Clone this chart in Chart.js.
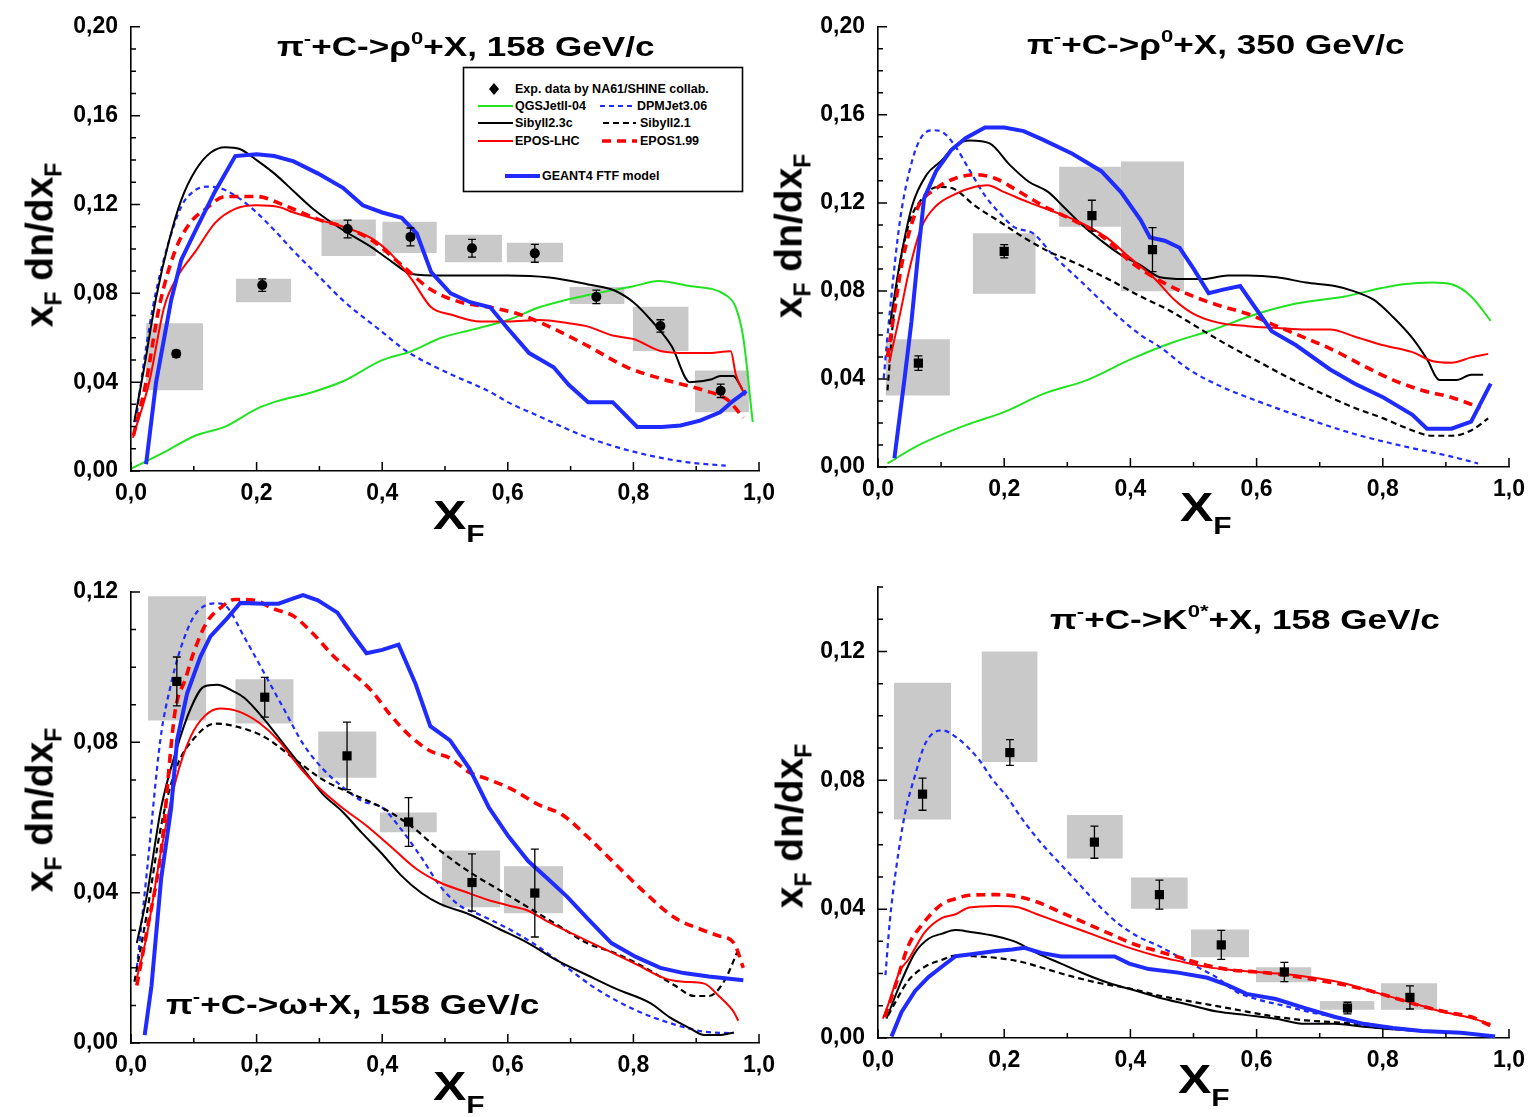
<!DOCTYPE html>
<html>
<head>
<meta charset="utf-8">
<script src="https://cdn.jsdelivr.net/npm/chart.js@4.4.1/dist/chart.umd.min.js"></script>
<style>
  body { margin:0; background:#fff; width:1534px; height:1117px; position:relative; overflow:hidden;
         font-family:'Liberation Sans', Arial, sans-serif; }
  canvas { position:absolute; }
  .ttl { position:absolute; font:bold 27px/27px 'Liberation Sans', Arial, sans-serif; white-space:nowrap;
         transform:scaleX(1.3); transform-origin:0 0; }
  .sp { font-size:17px; position:relative; top:-12px; }
  .yt { position:absolute; font:bold 39px/39px 'Liberation Sans', Arial, sans-serif; white-space:nowrap;
        transform:translate(-50%,-50%) rotate(-90deg); }
  .xt { position:absolute; font:bold 40px/40px 'Liberation Sans', Arial, sans-serif; white-space:nowrap;
        transform:scaleX(1.25); transform-origin:0 0; }
  .sb { font-size:23px; position:relative; top:9px; }
  .sb2 { font-size:24px; position:relative; top:13px; }
  #leg { position:absolute; left:462px; top:66px; }
  #leg text { font:bold 12.5px 'Liberation Sans', Arial, sans-serif; fill:#000; }
</style>
</head>
<body>

<div class="ttl" style="left:277px;top:34px">π<span class="sp">-</span>+C-&gt;ρ<span class="sp">0</span>+X, 158 GeV/c</div>
<div class="ttl" style="left:1027px;top:32px">π<span class="sp">-</span>+C-&gt;ρ<span class="sp">0</span>+X, 350 GeV/c</div>
<div class="ttl" style="left:166px;top:992px">π<span class="sp">-</span>+C-&gt;ω+X, 158 GeV/c</div>
<div class="ttl" style="left:1050px;top:607px">π<span class="sp">-</span>+C-&gt;K<span class="sp">0*</span>+X, 158 GeV/c</div>

<div class="yt" style="left:42px;top:245px">x<span class="sb">F</span> dn/dx<span class="sb">F</span></div>
<div class="yt" style="left:791px;top:236px">x<span class="sb">F</span> dn/dx<span class="sb">F</span></div>
<div class="yt" style="left:42px;top:810px">x<span class="sb">F</span> dn/dx<span class="sb">F</span></div>
<div class="yt" style="left:792px;top:826px">x<span class="sb">F</span> dn/dx<span class="sb">F</span></div>

<div class="xt" style="left:433px;top:495px">X<span class="sb2">F</span></div>
<div class="xt" style="left:1180px;top:487px">X<span class="sb2">F</span></div>
<div class="xt" style="left:433px;top:1066px">X<span class="sb2">F</span></div>
<div class="xt" style="left:1178px;top:1059px">X<span class="sb2">F</span></div>

<svg id="leg" width="284" height="128">
  <rect x="1.5" y="1.5" width="279" height="124" fill="#fff" stroke="#000" stroke-width="1.6"/>
  <polygon points="32,17 37,23 32,29 27,23" fill="#000"/>
  <text x="53" y="27">Exp. data by NA61/SHINE collab.</text>
  <line x1="16" y1="40" x2="51" y2="40" stroke="#22e322" stroke-width="2"/>
  <text x="53" y="44">QGSJetII-04</text>
  <line x1="138" y1="40" x2="174" y2="40" stroke="#1f2bff" stroke-width="2.2" stroke-dasharray="5,4"/>
  <text x="175" y="44">DPMJet3.06</text>
  <line x1="16" y1="57" x2="51" y2="57" stroke="#000" stroke-width="2"/>
  <text x="53" y="61">Sibyll2.3c</text>
  <line x1="141" y1="57" x2="174" y2="57" stroke="#000" stroke-width="2.2" stroke-dasharray="6,4"/>
  <text x="178" y="61">Sibyll2.1</text>
  <line x1="16" y1="75" x2="51" y2="75" stroke="#ff0000" stroke-width="2"/>
  <text x="53" y="79">EPOS-LHC</text>
  <line x1="140" y1="75" x2="175" y2="75" stroke="#ff0000" stroke-width="3.6" stroke-dasharray="9,6"/>
  <text x="178" y="79">EPOS1.99</text>
  <line x1="43" y1="110" x2="78" y2="110" stroke="#1f2bff" stroke-width="4"/>
  <text x="80" y="114">GEANT4 FTF model</text>
</svg>

<script>
// ---------- pi- + C -> rho0 + X, 158 GeV/c ----------
const rho158_xF    = [0.072, 0.209, 0.345, 0.445, 0.543, 0.643, 0.741, 0.843, 0.939];
const rho158_val   = [0.0528, 0.0837, 0.1090, 0.1054, 0.1003, 0.0980, 0.0784, 0.0653, 0.0361];
const rho158_stat  = [0.0015, 0.0028, 0.0040, 0.0040, 0.0040, 0.0040, 0.0030, 0.0028, 0.0030];
const rho158_binLo = [0.024, 0.167, 0.303, 0.400, 0.500, 0.598, 0.698, 0.799, 0.898];
const rho158_binHi = [0.115, 0.255, 0.390, 0.487, 0.591, 0.688, 0.786, 0.888, 0.984];
const rho158_sysLo = [0.0364, 0.0760, 0.0968, 0.0982, 0.0940, 0.0940, 0.0752, 0.0540, 0.0265];
const rho158_sysHi = [0.0665, 0.0866, 0.1132, 0.1122, 0.1064, 0.1028, 0.0828, 0.0740, 0.0452];

const rho158_QGSJet = [[0.0,0.001],[0.05,0.008],[0.103,0.016],[0.15,0.020],[0.2,0.028],[0.228,0.031],[0.29,0.0356],[0.3375,0.0404],[0.4,0.0499],[0.447,0.054],[0.494,0.060],[0.54,0.0634],[0.6,0.068],[0.65,0.0737],[0.689,0.0768],[0.728,0.0792],[0.8,0.0832],[0.84,0.0855],[0.884,0.0835],[0.947,0.0792],[0.963,0.0737],[0.975,0.060],[0.99,0.022]];
const rho158_DPMJet = [[0.006,0.018],[0.016,0.04],[0.035,0.074],[0.055,0.098],[0.08,0.119],[0.1,0.126],[0.12,0.128],[0.14,0.1275],[0.166,0.124],[0.2,0.1164],[0.228,0.1085],[0.259,0.099],[0.298,0.088],[0.3375,0.0768],[0.4,0.0626],[0.431,0.0555],[0.4625,0.050],[0.509,0.0436],[0.572,0.0356],[0.6,0.031],[0.65,0.0246],[0.728,0.015],[0.8,0.0087],[0.884,0.004],[0.947,0.0024]];
const rho158_Sib23  = [[0.005,0.022],[0.02,0.045],[0.04,0.078],[0.06,0.103],[0.08,0.122],[0.103,0.1355],[0.127,0.1434],[0.15,0.1458],[0.173,0.145],[0.2,0.140],[0.228,0.134],[0.259,0.126],[0.29,0.118],[0.3375,0.1085],[0.384,0.1006],[0.415,0.0943],[0.447,0.0887],[0.494,0.088],[0.6,0.088],[0.666,0.0871],[0.728,0.084],[0.767,0.0816],[0.8,0.076],[0.83,0.0673],[0.861,0.0562],[0.89,0.0400],[0.925,0.0413],[0.938,0.0428],[0.959,0.0428],[0.973,0.037]];
const rho158_EposLHC = [[0.003,0.015],[0.029,0.04],[0.053,0.074],[0.075,0.088],[0.103,0.099],[0.134,0.1117],[0.166,0.118],[0.2,0.1196],[0.236,0.1188],[0.259,0.1164],[0.306,0.1125],[0.3375,0.110],[0.384,0.1046],[0.415,0.0974],[0.447,0.0863],[0.478,0.0737],[0.509,0.0705],[0.556,0.0673],[0.6,0.0673],[0.65,0.068],[0.697,0.0665],[0.728,0.065],[0.767,0.061],[0.8,0.0594],[0.845,0.0539],[0.884,0.0531],[0.916,0.0531],[0.955,0.0539],[0.963,0.0436],[0.978,0.034]];
const rho158_Epos199 = [[0.004,0.016],[0.024,0.04],[0.045,0.074],[0.07,0.099],[0.095,0.112],[0.119,0.118],[0.15,0.1236],[0.2,0.1236],[0.244,0.1196],[0.298,0.1133],[0.3375,0.110],[0.384,0.1038],[0.431,0.0927],[0.478,0.0816],[0.525,0.076],[0.572,0.0737],[0.619,0.0705],[0.666,0.065],[0.728,0.0562],[0.79,0.0467],[0.845,0.0415],[0.91,0.0365],[0.95,0.032],[0.975,0.024]];
const rho158_Geant4 = [[0.024,0.003],[0.04,0.04],[0.064,0.077],[0.08,0.095],[0.103,0.1085],[0.134,0.126],[0.166,0.1418],[0.2,0.1426],[0.228,0.1418],[0.259,0.1394],[0.298,0.1339],[0.3375,0.1275],[0.369,0.1196],[0.4,0.1164],[0.431,0.114],[0.455,0.107],[0.478,0.0895],[0.509,0.080],[0.54,0.076],[0.572,0.0737],[0.6,0.0642],[0.634,0.0531],[0.673,0.0467],[0.697,0.0388],[0.728,0.031],[0.767,0.031],[0.806,0.0198],[0.845,0.0198],[0.875,0.0205],[0.906,0.0227],[0.938,0.0264],[0.959,0.0316],[0.98,0.036]];

// ---------- pi- + C -> rho0 + X, 350 GeV/c ----------
const rho350_xF    = [0.064, 0.200, 0.339, 0.435];
const rho350_val   = [0.0472, 0.0980, 0.1142, 0.0988];
const rho350_stat  = [0.0033, 0.0030, 0.0070, 0.0100];
const rho350_binLo = [0.012, 0.150, 0.287, 0.385];
const rho350_binHi = [0.114, 0.250, 0.385, 0.485];
const rho350_sysLo = [0.0325, 0.0787, 0.1091, 0.0798];
const rho350_sysHi = [0.0580, 0.1062, 0.1364, 0.1388];

const rho350_QGSJet = [[0.015,0.0016],[0.0616,0.0095],[0.139,0.019],[0.2026,0.0253],[0.262,0.0332],[0.331,0.0395],[0.401,0.049],[0.47,0.0569],[0.524,0.0617],[0.601,0.0696],[0.6626,0.0743],[0.74,0.0775],[0.8,0.0814],[0.832,0.083],[0.878,0.0838],[0.909,0.083],[0.94,0.0775],[0.971,0.0664]];
const rho350_DPMJet = [[0.009,0.0403],[0.019,0.0711],[0.035,0.1123],[0.054,0.139],[0.069,0.150],[0.0886,0.153],[0.104,0.1518],[0.123,0.1455],[0.146,0.1344],[0.1695,0.1233],[0.1926,0.1154],[0.2157,0.109],[0.2465,0.106],[0.277,0.0964],[0.3236,0.0838],[0.37,0.0711],[0.416,0.060],[0.447,0.0545],[0.493,0.0443],[0.539,0.0372],[0.601,0.030],[0.678,0.0221],[0.755,0.015],[0.832,0.0095],[0.909,0.0047],[0.951,0.0016]];
const rho350_Sib23  = [[0.019,0.0648],[0.035,0.0933],[0.054,0.1186],[0.077,0.1328],[0.1,0.139],[0.123,0.1462],[0.146,0.1483],[0.177,0.147],[0.208,0.1375],[0.239,0.1296],[0.27,0.1249],[0.2928,0.1186],[0.3236,0.1099],[0.354,0.1028],[0.385,0.0964],[0.416,0.0917],[0.447,0.0862],[0.485,0.0854],[0.516,0.0854],[0.5547,0.087],[0.5855,0.087],[0.632,0.0862],[0.678,0.0838],[0.724,0.0822],[0.755,0.0798],[0.786,0.0759],[0.8166,0.068],[0.847,0.0585],[0.87,0.049],[0.89,0.0395],[0.917,0.0395],[0.94,0.0419],[0.959,0.0419]];
const rho350_Sib21  = [[0.015,0.0348],[0.027,0.0759],[0.046,0.1075],[0.069,0.1217],[0.096,0.1273],[0.119,0.1265],[0.154,0.1186],[0.1926,0.1115],[0.231,0.1043],[0.27,0.098],[0.308,0.0933],[0.37,0.0846],[0.416,0.0775],[0.462,0.0711],[0.508,0.0632],[0.5547,0.0553],[0.601,0.0482],[0.647,0.0411],[0.693,0.0348],[0.755,0.0269],[0.801,0.0221],[0.84,0.0174],[0.878,0.0142],[0.909,0.0142],[0.94,0.0166],[0.967,0.0221]];
const rho350_EposLHC = [[0.0177,0.0474],[0.035,0.0696],[0.05,0.0901],[0.069,0.109],[0.092,0.1186],[0.123,0.1241],[0.154,0.1273],[0.173,0.128],[0.2,0.1249],[0.239,0.1202],[0.277,0.1162],[0.3236,0.1107],[0.362,0.1043],[0.4,0.0949],[0.439,0.0854],[0.47,0.0759],[0.5,0.0696],[0.539,0.0656],[0.5855,0.064],[0.632,0.0632],[0.678,0.0625],[0.7165,0.0625],[0.755,0.0593],[0.801,0.0553],[0.847,0.0522],[0.878,0.0482],[0.909,0.0474],[0.94,0.0498],[0.967,0.0514]];
const rho350_Epos199 = [[0.015,0.050],[0.023,0.0648],[0.0385,0.0933],[0.0616,0.117],[0.092,0.1265],[0.123,0.1312],[0.154,0.1328],[0.185,0.1312],[0.2157,0.1265],[0.262,0.1186],[0.308,0.1123],[0.354,0.1051],[0.4,0.0933],[0.447,0.0846],[0.493,0.0783],[0.539,0.0735],[0.5855,0.0696],[0.632,0.064],[0.678,0.0585],[0.7165,0.0538],[0.77,0.0459],[0.8166,0.0395],[0.863,0.0348],[0.909,0.0316],[0.955,0.0269]];
const rho350_Geant4 = [[0.026,0.004],[0.042,0.04],[0.053,0.066],[0.063,0.095],[0.073,0.122],[0.092,0.1344],[0.1156,0.1439],[0.1387,0.1494],[0.1695,0.1542],[0.2,0.1542],[0.231,0.1526],[0.262,0.1486],[0.308,0.1423],[0.354,0.1344],[0.385,0.1249],[0.416,0.1123],[0.431,0.1043],[0.4545,0.1028],[0.478,0.0996],[0.5,0.0901],[0.524,0.079],[0.547,0.0806],[0.574,0.0822],[0.601,0.0711],[0.624,0.0617],[0.6626,0.0553],[0.7165,0.0443],[0.755,0.0379],[0.801,0.0316],[0.847,0.0237],[0.87,0.0174],[0.909,0.0174],[0.94,0.0206],[0.971,0.0379]];

// ---------- pi- + C -> omega + X, 158 GeV/c ----------
const omega158_xF    = [0.073, 0.213, 0.344, 0.442, 0.543, 0.643];
const omega158_val   = [0.0962, 0.0920, 0.0764, 0.0588, 0.0427, 0.0399];
const omega158_stat  = [0.0065, 0.0053, 0.0090, 0.0065, 0.0076, 0.0117];
const omega158_binLo = [0.027, 0.166, 0.298, 0.396, 0.495, 0.594];
const omega158_binHi = [0.120, 0.259, 0.391, 0.487, 0.588, 0.688];
const omega158_sysLo = [0.0858, 0.0850, 0.0706, 0.0561, 0.0361, 0.0345];
const omega158_sysHi = [0.1189, 0.0968, 0.0829, 0.0613, 0.0512, 0.0470];

const omega158_DPMJet = [[0.0093,0.020],[0.025,0.045],[0.047,0.081],[0.063,0.095],[0.079,0.105],[0.1,0.1135],[0.116,0.1162],[0.135,0.117],[0.15,0.1164],[0.1807,0.1079],[0.2118,0.0985],[0.243,0.089],[0.274,0.0796],[0.305,0.073],[0.3364,0.0682],[0.3676,0.0644],[0.4,0.0626],[0.43,0.0569],[0.4626,0.0493],[0.492,0.0418],[0.523,0.0366],[0.5545,0.0342],[0.601,0.0304],[0.648,0.0257],[0.6947,0.020],[0.741,0.0144],[0.804,0.0087],[0.866,0.0049],[0.913,0.003],[0.9595,0.0026]];
const omega158_Sib23  = [[0.0093,0.0266],[0.025,0.039],[0.048,0.0626],[0.0717,0.0777],[0.095,0.089],[0.116,0.0948],[0.137,0.0953],[0.164,0.0935],[0.1807,0.0918],[0.2118,0.0862],[0.243,0.0796],[0.274,0.073],[0.305,0.0663],[0.3364,0.0616],[0.3676,0.0559],[0.4,0.0503],[0.43,0.0446],[0.4626,0.0399],[0.492,0.037],[0.539,0.0342],[0.5857,0.0304],[0.6324,0.0266],[0.679,0.0219],[0.726,0.0181],[0.7726,0.0144],[0.827,0.0106],[0.858,0.0068],[0.889,0.004],[0.913,0.0021],[0.936,0.0021],[0.96,0.0028]];
const omega158_Sib21  = [[0.0055,0.0163],[0.025,0.0342],[0.048,0.0578],[0.0717,0.073],[0.1028,0.0815],[0.134,0.085],[0.165,0.0843],[0.2118,0.0815],[0.2586,0.0758],[0.305,0.0701],[0.352,0.0663],[0.4,0.0626],[0.4455,0.0578],[0.492,0.0512],[0.539,0.0455],[0.5857,0.0408],[0.6324,0.0361],[0.679,0.0314],[0.726,0.0266],[0.7726,0.0238],[0.819,0.020],[0.866,0.0153],[0.897,0.0125],[0.92,0.0125],[0.944,0.0163],[0.967,0.0248]];
const omega158_EposLHC = [[0.0093,0.0172],[0.025,0.0285],[0.048,0.0512],[0.0717,0.0701],[0.095,0.0815],[0.118,0.0871],[0.1417,0.089],[0.173,0.0881],[0.204,0.0852],[0.235,0.0805],[0.266,0.0739],[0.2975,0.0682],[0.3364,0.0626],[0.375,0.0578],[0.414,0.0522],[0.453,0.0465],[0.492,0.0427],[0.531,0.0403],[0.57,0.038],[0.601,0.0366],[0.6324,0.0352],[0.6636,0.0323],[0.71,0.0285],[0.757,0.0248],[0.804,0.021],[0.85,0.0172],[0.88,0.0163],[0.913,0.0158],[0.936,0.0125],[0.96,0.0082],[0.967,0.0059]];
const omega158_Epos199 = [[0.0093,0.0153],[0.025,0.0295],[0.048,0.0512],[0.07,0.088],[0.087,0.097],[0.1,0.104],[0.121,0.112],[0.142,0.1157],[0.165,0.118],[0.196,0.1178],[0.2274,0.1155],[0.2586,0.1136],[0.29,0.1089],[0.321,0.1032],[0.352,0.0985],[0.383,0.0937],[0.414,0.0871],[0.4455,0.0815],[0.4766,0.0777],[0.508,0.0758],[0.539,0.072],[0.57,0.0701],[0.609,0.0673],[0.648,0.0635],[0.687,0.0607],[0.726,0.055],[0.7726,0.0474],[0.819,0.0399],[0.866,0.0333],[0.905,0.0304],[0.936,0.0285],[0.96,0.0266],[0.975,0.020]];
const omega158_Geant4 = [[0.0218,0.0021],[0.0327,0.0153],[0.048,0.0437],[0.064,0.0626],[0.0734,0.0806],[0.0893,0.093],[0.1106,0.1028],[0.1265,0.1082],[0.153,0.113],[0.174,0.1171],[0.2118,0.1169],[0.235,0.1169],[0.2586,0.1183],[0.274,0.1192],[0.2975,0.1178],[0.3287,0.1145],[0.352,0.1089],[0.375,0.1037],[0.4,0.1046],[0.426,0.106],[0.453,0.0956],[0.4766,0.0843],[0.508,0.0805],[0.539,0.073],[0.57,0.0626],[0.601,0.055],[0.6324,0.0484],[0.6636,0.0437],[0.6947,0.0389],[0.726,0.0333],[0.765,0.0266],[0.804,0.0229],[0.843,0.020],[0.88,0.0186],[0.92,0.0177],[0.975,0.0167]];

// ---------- pi- + C -> K0* + X, 158 GeV/c ----------
const kstar158_xF    = [0.0706, 0.209, 0.343, 0.446, 0.544, 0.644, 0.744, 0.843];
const kstar158_val   = [0.0757, 0.0886, 0.0608, 0.0445, 0.0289, 0.0205, 0.0093, 0.0126];
const kstar158_stat  = [0.0050, 0.0040, 0.0050, 0.0045, 0.0045, 0.0030, 0.0018, 0.0036];
const kstar158_binLo = [0.025, 0.164, 0.299, 0.401, 0.496, 0.599, 0.700, 0.797];
const kstar158_binHi = [0.116, 0.253, 0.388, 0.491, 0.588, 0.687, 0.787, 0.886];
const kstar158_sysLo = [0.0678, 0.0857, 0.0557, 0.0401, 0.0251, 0.0173, 0.0088, 0.0088];
const kstar158_sysHi = [0.1103, 0.1200, 0.0692, 0.0498, 0.0337, 0.0220, 0.0115, 0.0170];

const kstar158_DPMJet = [[0.0118,0.0195],[0.0187,0.0362],[0.0294,0.0535],[0.0428,0.0697],[0.0588,0.0816],[0.0749,0.0914],[0.1016,0.0955],[0.123,0.0935],[0.1585,0.0868],[0.1818,0.0802],[0.205,0.0747],[0.228,0.0681],[0.259,0.0604],[0.29,0.0538],[0.321,0.0473],[0.3519,0.0407],[0.3828,0.0352],[0.4138,0.0313],[0.4447,0.0286],[0.4756,0.0253],[0.5066,0.022],[0.5375,0.0187],[0.5684,0.0143],[0.5994,0.0121],[0.6458,0.0099],[0.692,0.0077],[0.7386,0.006],[0.7695,0.0038],[0.816,0.0027]];
const kstar158_Sib23  = [[0.0134,0.006],[0.0374,0.0178],[0.0588,0.0265],[0.08,0.0308],[0.1016,0.0324],[0.123,0.0335],[0.1444,0.033],[0.187,0.0316],[0.22,0.0297],[0.251,0.0264],[0.29,0.0231],[0.3287,0.0198],[0.367,0.017],[0.406,0.0148],[0.4447,0.0126],[0.491,0.0104],[0.5375,0.0082],[0.584,0.0071],[0.6303,0.006],[0.6767,0.0044],[0.723,0.0044],[0.7695,0.0035],[0.816,0.0027],[0.8546,0.0022]];
const kstar158_Sib21  = [[0.016,0.007],[0.048,0.0178],[0.0749,0.0222],[0.1016,0.0243],[0.123,0.0256],[0.1585,0.0253],[0.187,0.0249],[0.228,0.0236],[0.2668,0.0214],[0.3055,0.0192],[0.352,0.017],[0.398,0.0154],[0.4447,0.0132],[0.491,0.0115],[0.5375,0.0099],[0.584,0.0082],[0.6303,0.0066],[0.6767,0.0055],[0.723,0.0049],[0.7695,0.0042],[0.816,0.0033]];
const kstar158_EposLHC = [[0.0077,0.006],[0.016,0.0103],[0.0348,0.0209],[0.048,0.0243],[0.0749,0.033],[0.1016,0.0373],[0.123,0.0384],[0.1444,0.0405],[0.187,0.041],[0.22,0.0407],[0.251,0.0385],[0.29,0.0357],[0.3287,0.033],[0.367,0.0302],[0.406,0.0275],[0.4447,0.0253],[0.4834,0.0236],[0.522,0.022],[0.5607,0.0211],[0.5994,0.0205],[0.6458,0.0198],[0.692,0.0187],[0.7386,0.017],[0.777,0.0148],[0.816,0.0126],[0.8546,0.0104],[0.893,0.0082],[0.932,0.0066],[0.9706,0.0044]];
const kstar158_Epos199 = [[0.0107,0.0065],[0.0267,0.0157],[0.048,0.0286],[0.0695,0.0351],[0.1016,0.0416],[0.123,0.0432],[0.1444,0.0443],[0.187,0.0445],[0.2127,0.0442],[0.251,0.0423],[0.29,0.039],[0.3287,0.0357],[0.367,0.0324],[0.406,0.0291],[0.4447,0.0269],[0.4834,0.0247],[0.522,0.0225],[0.5607,0.0211],[0.5994,0.0205],[0.6458,0.0196],[0.692,0.0181],[0.7386,0.0165],[0.777,0.0148],[0.816,0.0126],[0.862,0.0099],[0.9087,0.0077],[0.94,0.0066],[0.9706,0.0038]];
const kstar158_Geant4 = [[0.0214,0.0005],[0.0374,0.0081],[0.0588,0.0146],[0.08,0.0189],[0.1016,0.0222],[0.123,0.0254],[0.1444,0.0259],[0.187,0.027],[0.2127,0.0275],[0.232,0.028],[0.259,0.0264],[0.29,0.0253],[0.3364,0.0253],[0.375,0.0253],[0.398,0.0231],[0.429,0.0214],[0.4756,0.0203],[0.522,0.0187],[0.553,0.0165],[0.584,0.0137],[0.6303,0.0121],[0.6767,0.0093],[0.723,0.0066],[0.7695,0.0044],[0.816,0.0031],[0.862,0.0022],[0.924,0.0016],[0.978,0.0005]];

// axis ranges / ticks
const xTicksMajor = 0.2, xTicksMinor = 0.1;
const yTicksMajor = 0.04, yTicksMinor = 0.01;

const FONT = "'Liberation Sans', Arial, sans-serif";
Chart.defaults.font.family = FONT;
Chart.defaults.font.weight = 'bold';
Chart.defaults.font.size = 23;
Chart.defaults.color = '#000';

const STYLE = {
  QGSJet:  { borderColor: '#22e322', borderWidth: 2 },
  DPMJet:  { borderColor: '#1f2bff', borderWidth: 2.2, borderDash: [5, 4] },
  Sib23:   { borderColor: '#000000', borderWidth: 2 },
  Sib21:   { borderColor: '#000000', borderWidth: 2.2, borderDash: [6, 4] },
  EposLHC: { borderColor: '#ff0000', borderWidth: 2 },
  Epos199: { borderColor: '#ff0000', borderWidth: 3.6, borderDash: [9, 6] },
  Geant4:  { borderColor: '#1f2bff', borderWidth: 4 },
};

const toXY = arr => arr.map(p => ({ x: p[0], y: p[1] }));

// inward tick marks like the original Origin plot
const inTicks = {
  id: 'inTicks',
  afterDraw(chart) {
    const { ctx, scales: { x, y } } = chart;
    ctx.save();
    ctx.strokeStyle = '#000';
    ctx.lineWidth = 1.5;
    ctx.beginPath();
    const nx = Math.round(1 / xTicksMinor);
    for (let i = 0; i <= nx; i++) {
      const px = x.getPixelForValue(i * xTicksMinor);
      const len = (i % 2 === 0) ? 9 : 5;
      ctx.moveTo(px, y.bottom); ctx.lineTo(px, y.bottom - len);
    }
    const ny = Math.round(y.max / yTicksMinor);
    for (let i = 0; i <= ny; i++) {
      const py = y.getPixelForValue(i * yTicksMinor);
      const len = (i % 4 === 0) ? 9 : 5;
      ctx.moveTo(x.left, py); ctx.lineTo(x.left + len, py);
    }
    ctx.stroke();
    ctx.restore();
  }
};

function makePanel(p) {
  const cv = document.createElement('canvas');
  cv.width = p.w; cv.height = p.h;
  cv.style.left = p.left + 'px'; cv.style.top = p.top + 'px';
  document.body.insertBefore(cv, document.body.firstChild);

  const datasets = [];
  datasets.push({
    data: p.xF.map((v, i) => ({ x: v, y: p.val[i] })),
    showLine: false, pointStyle: p.marker, pointRadius: p.marker === 'circle' ? 5 : 6.5,
    pointBackgroundColor: '#000', pointBorderColor: '#000', pointBorderWidth: 0, order: 0
  });
  p.curves.forEach((c, k) => {
    datasets.push(Object.assign({
      data: toXY(c.data), pointRadius: 0, fill: false, order: 1 + k,
      cubicInterpolationMode: c.name === 'Geant4' ? 'default' : 'monotone',
      tension: c.name === 'Geant4' ? 0 : 0.4
    }, STYLE[c.name]));
  });
  p.binLo.forEach((lo, i) => {
    datasets.push({ data: [{ x: lo, y: p.sysHi[i] }, { x: p.binHi[i], y: p.sysHi[i] }],
      borderWidth: 0, pointRadius: 0, fill: '+1', backgroundColor: '#c9c9c9', order: 50 });
    datasets.push({ data: [{ x: lo, y: p.sysLo[i] }, { x: p.binHi[i], y: p.sysLo[i] }],
      borderWidth: 0, pointRadius: 0, fill: false, order: 51 });
  });

  const errBars = {
    id: 'errBars',
    afterDatasetsDraw(chart) {
      const { ctx, scales: { x, y } } = chart;
      ctx.save();
      ctx.strokeStyle = '#000';
      ctx.lineWidth = 1.3;
      ctx.beginPath();
      p.xF.forEach((v, i) => {
        const px = x.getPixelForValue(v);
        const y1 = y.getPixelForValue(p.val[i] + p.stat[i]);
        const y2 = y.getPixelForValue(p.val[i] - p.stat[i]);
        ctx.moveTo(px, y1); ctx.lineTo(px, y2);
        ctx.moveTo(px - 4, y1); ctx.lineTo(px + 4, y1);
        ctx.moveTo(px - 4, y2); ctx.lineTo(px + 4, y2);
      });
      ctx.stroke();
      ctx.restore();
    }
  };

  new Chart(cv, {
    type: 'line',
    data: { datasets },
    options: {
      responsive: false, animation: false, devicePixelRatio: 1,
      layout: { padding: { left: 0, top: p.area.t - p.top, right: p.left + p.w - p.area.r, bottom: 0 } },
      plugins: { legend: { display: false }, tooltip: { enabled: false }, filler: { drawTime: 'beforeDatasetsDraw' } },
      scales: {
        x: {
          type: 'linear', min: 0, max: 1,
          grid: { display: false, drawTicks: false },
          border: { display: true, color: '#000', width: 1.6 },
          ticks: { stepSize: xTicksMajor, padding: 9, maxRotation: 0, autoSkip: false, includeBounds: false,
                   callback: v => v.toFixed(1).replace('.', ',') },
          afterFit: s => { s.height = p.top + p.h - p.area.b; }
        },
        y: {
          type: 'linear', min: 0, max: p.yMax,
          grid: { display: false, drawTicks: false },
          border: { display: true, color: '#000', width: 1.6 },
          ticks: { stepSize: yTicksMajor, padding: 13, includeBounds: false,
                   callback: v => v.toFixed(2).replace('.', ',') },
          afterFit: s => { s.width = p.area.l - p.left; }
        }
      }
    },
    plugins: [inTicks, errBars]
  });
}

makePanel({
  left: 0, top: 0, w: 800, h: 555, area: { l: 131, r: 759, t: 21, b: 471 }, yMax: 0.20, marker: 'circle',
  xF: rho158_xF, val: rho158_val, stat: rho158_stat, binLo: rho158_binLo, binHi: rho158_binHi, sysLo: rho158_sysLo, sysHi: rho158_sysHi,
  curves: [
    { name: 'Geant4', data: rho158_Geant4 }, { name: 'Epos199', data: rho158_Epos199 }, { name: 'EposLHC', data: rho158_EposLHC },
    { name: 'Sib23', data: rho158_Sib23 }, { name: 'DPMJet', data: rho158_DPMJet }, { name: 'QGSJet', data: rho158_QGSJet }
  ]
});
makePanel({
  left: 767, top: 0, w: 767, h: 555, area: { l: 878, r: 1509, t: 20, b: 467 }, yMax: 0.20, marker: 'rect',
  xF: rho350_xF, val: rho350_val, stat: rho350_stat, binLo: rho350_binLo, binHi: rho350_binHi, sysLo: rho350_sysLo, sysHi: rho350_sysHi,
  curves: [
    { name: 'Geant4', data: rho350_Geant4 }, { name: 'Epos199', data: rho350_Epos199 }, { name: 'EposLHC', data: rho350_EposLHC },
    { name: 'Sib21', data: rho350_Sib21 }, { name: 'Sib23', data: rho350_Sib23 }, { name: 'DPMJet', data: rho350_DPMJet },
    { name: 'QGSJet', data: rho350_QGSJet }
  ]
});
makePanel({
  left: 0, top: 558, w: 800, h: 559, area: { l: 131, r: 759, t: 592, b: 1043 }, yMax: 0.12, marker: 'rect',
  xF: omega158_xF, val: omega158_val, stat: omega158_stat, binLo: omega158_binLo, binHi: omega158_binHi, sysLo: omega158_sysLo, sysHi: omega158_sysHi,
  curves: [
    { name: 'Geant4', data: omega158_Geant4 }, { name: 'Epos199', data: omega158_Epos199 }, { name: 'EposLHC', data: omega158_EposLHC },
    { name: 'Sib21', data: omega158_Sib21 }, { name: 'Sib23', data: omega158_Sib23 }, { name: 'DPMJet', data: omega158_DPMJet }
  ]
});
makePanel({
  left: 767, top: 558, w: 767, h: 559, area: { l: 878, r: 1509, t: 587, b: 1038 }, yMax: 0.14, marker: 'rect',
  xF: kstar158_xF, val: kstar158_val, stat: kstar158_stat, binLo: kstar158_binLo, binHi: kstar158_binHi, sysLo: kstar158_sysLo, sysHi: kstar158_sysHi,
  curves: [
    { name: 'Geant4', data: kstar158_Geant4 }, { name: 'Epos199', data: kstar158_Epos199 }, { name: 'EposLHC', data: kstar158_EposLHC },
    { name: 'Sib21', data: kstar158_Sib21 }, { name: 'Sib23', data: kstar158_Sib23 }, { name: 'DPMJet', data: kstar158_DPMJet }
  ]
});
</script>
</body>
</html>
